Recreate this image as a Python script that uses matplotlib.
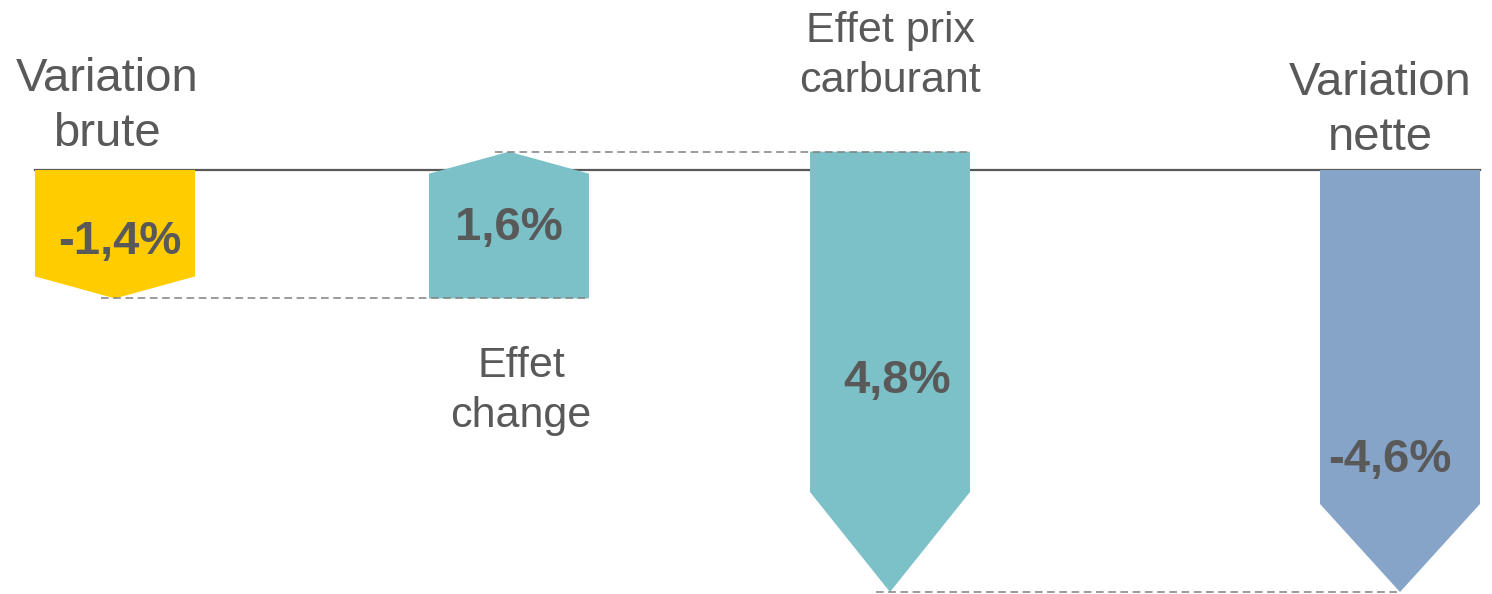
import numpy as np
import matplotlib.pyplot as plt
from matplotlib.patches import Polygon

plt.rcParams['font.family'] = ['Liberation Sans', 'DejaVu Sans']

# data
categories = ["Variation\nbrute", "Effet\nchange", "Effet prix\ncarburant", "Variation\nnette"]
deltas = [-1.4, 1.6, -4.8, -4.6]          # signed moves of each step
value_labels = ["-1,4%", "1,6%", "4,8%", "-4,6%"]
is_total = [True, False, False, True]

# style / layout
colors = ["#FFCC00", "#7BC1C7", "#7BC1C7", "#85A4C8"]
xcenters = [115, 509, 890, 1400]
half_w = 80
tip_len = [0.24, 0.24, 1.09, 0.96]
txt_col = "#595959"

W, H = 1492, 594
y0_px, ymin_val, ymin_px = 170, -4.6, 592
scale = (ymin_px - y0_px) / -ymin_val


def py(p):
    # pixel row -> data value
    return (y0_px - p) / scale


fig = plt.figure(figsize=(W / 100, H / 100), dpi=100)
ax = fig.add_axes([0, 0, 1, 1])
ax.set_xlim(0, W)
ax.set_ylim(py(H), py(0))
ax.axis('off')

# compute starts / ends
starts, ends = [], []
cum = 0.0
for d, tot in zip(deltas, is_total):
    if tot:
        s = 0.0
        e = d
    else:
        s = cum
        e = cum + d
    starts.append(s)
    ends.append(e)
    cum = e

ax.plot([35, 1480], [0, 0], color=txt_col, lw=1.6, zorder=1)

for i in range(4):
    s, e = starts[i], ends[i]
    xc = xcenters[i]
    xl, xr = xc - half_w, xc + half_w
    d = np.sign(e - s)
    b = e - d * tip_len[i]
    poly = Polygon([(xl, s), (xr, s), (xr, b), (xc, e), (xl, b)],
                   closed=True, facecolor=colors[i], edgecolor='none', zorder=2)
    ax.add_patch(poly)

# dashed connectors
for i in range(3):
    lvl = ends[i]
    x_start = xcenters[i] - 14
    if abs(starts[i + 1] - lvl) < 1e-9:
        x_end = xcenters[i + 1] + half_w
    else:
        x_end = xcenters[i + 1]
    ax.plot([x_start, x_end], [lvl, lvl], color="#808080", lw=1.1,
            ls=(0, (5, 3)), zorder=3)

# category labels
cat_pos = [(107, 57, 34), (521, 346, 31), (890, 11, 31), (1380, 61, 34)]
for lab, (x, ytop, fs) in zip(categories, cat_pos):
    ax.text(x, py(ytop), lab, ha='center', va='top', fontsize=fs,
            color=txt_col, linespacing=1.33, zorder=4)

# value labels
val_pos = [(120, 242), (509, 228), (897, 381), (1390, 460)]
for lab, (x, yc) in zip(value_labels, val_pos):
    ax.text(x, py(yc), lab, ha='center', va='center', fontsize=34,
            fontweight='bold', color=txt_col, zorder=4)

fig.savefig("out.png", dpi=100)
